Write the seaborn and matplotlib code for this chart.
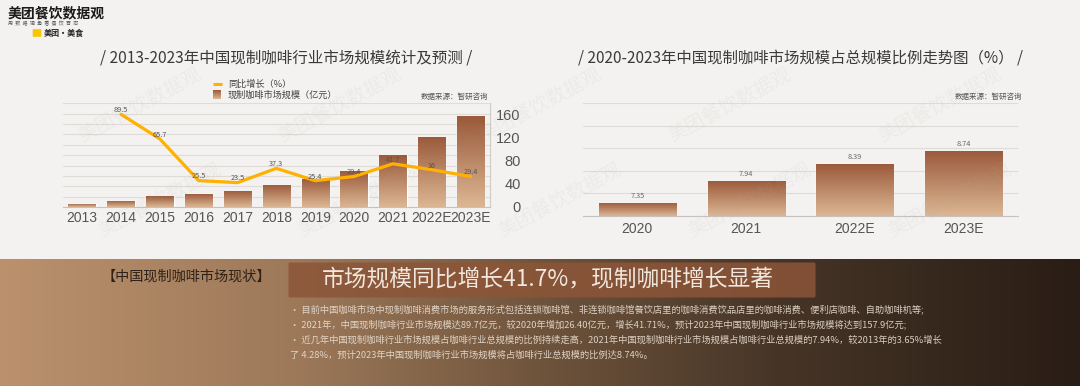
import numpy as np
import pandas as pd
import matplotlib.pyplot as plt
import seaborn as sns
from matplotlib.colors import LinearSegmentedColormap, to_rgba
from matplotlib.patches import FancyBboxPatch

sns.set_style('white')
plt.rcParams['font.family'] = ['Noto Sans CJK SC', 'DejaVu Sans']

# chart data
years = ['2013', '2014', '2015', '2016', '2017', '2018', '2019', '2020', '2021', '2022E', '2023E']
market_size = [5.8, 11.1, 18.3, 23.0, 28.4, 39.0, 48.9, 63.3, 89.7, 122.0, 157.9]
growth_years = years[1:]
growth = [89.5, 65.7, 25.5, 23.5, 37.3, 25.4, 29.4, 41.7, 36, 29.4]
share_years = ['2020', '2021', '2022E', '2023E']
share = [7.35, 7.94, 8.39, 8.74]

title_left = '/ 2013-2023年中国现制咖啡行业市场规模统计及预测 /'
title_right = '/ 2020-2023年中国现制咖啡市场规模占总规模比例走势图（%） /'
source = '数据来源：智研咨询'
headline = '市场规模同比增长41.7%，现制咖啡增长显著'
section = '【中国现制咖啡市场现状】'
notes = [
    '· 目前中国咖啡市场中现制咖啡消费市场的服务形式包括连锁咖啡馆、非连锁咖啡馆餐饮店里的咖啡消费饮品店里的咖啡消费、便利店咖啡、自助咖啡机等;',
    '· 2021年，中国现制咖啡行业市场规模达89.7亿元，较2020年增加26.40亿元，增长41.71%，预计2023年中国现制咖啡行业市场规模将达到157.9亿元;',
    '· 近几年中国现制咖啡行业市场规模占咖啡行业总规模的比例持续走高，2021年中国现制咖啡行业市场规模占咖啡行业总规模的7.94%，较2013年的3.65%增长',
    '了 4.28%，预计2023年中国现制咖啡行业市场规模将占咖啡行业总规模的比例达8.74%。',
]

W, H = 1080, 386
bar_top, bar_bot = '#9a5a3b', '#dcb693'
line_col = '#ffb000'
grid_col = '#dfdcd8'

# vertical gradient used for bars
grad = np.array([to_rgba(c) for c in
                 LinearSegmentedColormap.from_list('g', [bar_top, bar_bot])(np.linspace(0, 1, 64))])
grad = grad.reshape(64, 1, 4)


def gradient_bars(ax, floor):
    for p in list(ax.patches):
        x0, w = p.get_x(), p.get_width()
        y0 = max(p.get_y(), floor)
        y1 = p.get_y() + p.get_height()
        im = ax.imshow(grad, extent=[x0, x0 + w, y0, y1], aspect='auto',
                       zorder=p.get_zorder() + 0.1, interpolation='bicubic')
        im.set_clip_path(p)


fig = plt.figure(figsize=(W / 100, H / 100), dpi=100, facecolor='#f3f2f0')

# background layer in pixel coordinates
bg = fig.add_axes([0, 0, 1, 1], zorder=-5)
bg.axis('off')
band_cmap = LinearSegmentedColormap.from_list(
    'band', [(0, '#bb916d'), (0.28, '#9c7859'), (0.5, '#6f543c'), (0.72, '#463527'), (1, '#2a1d15')])
band = band_cmap(np.linspace(0, 1, 400)).reshape(1, 400, 4)
bg.imshow(band, extent=[0, W, H, 259], aspect='auto', interpolation='bicubic')

# logo
bg.text(8, 13, '美团餐饮数据观', fontsize=10, fontweight='bold', color='#1a1a1a', va='center')
bg.text(8, 24, '用  数  据  视  角  看  餐  饮  百  态', fontsize=3.6, color='#555', va='center')
bg.add_patch(FancyBboxPatch((33, 29.5), 8, 7, boxstyle='round,pad=0.3', fc='#f7c600', ec='none'))
bg.text(43.5, 33, '美团·美食', fontsize=5.8, fontweight='bold', color='#222', va='center')

# titles, legend, sources
bg.text(286, 58, title_left, fontsize=11.2, fontweight='light', color='#3a3a3a', ha='center', va='center')
bg.text(800, 58, title_right, fontsize=11.1, fontweight='light', color='#3a3a3a', ha='center', va='center')
bg.plot([213, 222], [84, 84], color=line_col, lw=2.2, solid_capstyle='butt')
bg.imshow(grad, extent=[213, 221, 99.5, 91], aspect='auto')
bg.text(228, 84, '同比增长（%）', fontsize=6.6, color='#444', va='center')
bg.text(228, 95.5, '现制咖啡市场规模（亿元）', fontsize=6.6, color='#444', va='center')
bg.text(488, 97, source, fontsize=5.4, color='#555', ha='right', va='center')
bg.text(1022, 97, source, fontsize=5.4, color='#555', ha='right', va='center')

# bottom band texts
bg.add_patch(FancyBboxPatch((290, 264), 524, 32, boxstyle='round,pad=1.5',
                            fc='#8c5538', ec='none', alpha=0.85))
bg.text(548, 280, headline, fontsize=16.4, fontweight='light', color='#f1e7dd', ha='center', va='center')
bg.text(186, 277, section, fontsize=10.2, color='#2e2218', ha='center', va='center')
for i, line in enumerate(notes):
    bg.text(290, 309 + i * 15.3, line, fontsize=6.7, color='#eadfd3', alpha=0.9, va='center')

bg.set_xlim(0, W)
bg.set_ylim(H, 0)

# left chart: market size bars + growth line
ax1 = fig.add_axes([62.7 / W, 1 - 207 / H, (490 - 62.7) / W, (207 - 103.4) / H])
ax1.set_facecolor('none')
df_size = pd.DataFrame({'year': years, 'size': market_size})
sns.barplot(data=df_size, x='year', y='size', order=years, ax=ax1,
            width=0.705, color=bar_bot, saturation=1)
ax1.set_ylim(0, 180)
gradient_bars(ax1, 0)

ax2 = ax1.twinx()
df_growth = pd.DataFrame({'year': growth_years, 'growth': growth})
df_growth['pos'] = [years.index(y) for y in df_growth['year']]
sns.lineplot(data=df_growth, x='pos', y='growth', ax=ax2, color=line_col, lw=2.3)
ax2.set_ylim(0, 100)
ax2.set_yticks([])
ax2.set_xlabel('')
ax2.set_ylabel('')
for s in ax2.spines.values():
    s.set_visible(False)
for p, g in zip(df_growth['pos'], df_growth['growth']):
    ax2.annotate(f'{g:g}', (p, g), xytext=(0, 3), textcoords='offset points',
                 ha='center', va='center', fontsize=5.3, color='#555')

# twinx moves ticks to the left, so set the right-side axis after it
ax1.set_xlim(-0.5, len(years) - 0.5)
ax1.set_ylim(0, 180)
ax1.yaxis.tick_right()
ax1.set_yticks([0, 40, 80, 120, 160])
ax1.set_yticks(np.arange(0, 181, 18), minor=True)
ax1.grid(which='minor', axis='y', color=grid_col, lw=0.8)
ax1.grid(which='major', axis='both', visible=False)
ax1.set_axisbelow(True)
ax1.tick_params(axis='y', which='both', length=0, pad=22, labelsize=10.5, labelcolor='#555',
                left=False, labelleft=False, right=True, labelright=True)
for t in ax1.get_yticklabels():
    t.set_horizontalalignment('right')
ax1.tick_params(axis='x', length=0, pad=3, labelsize=10, labelcolor='#555')
for t in ax1.get_xticklabels() + ax1.get_yticklabels():
    t.set_fontfamily(['Liberation Sans', 'DejaVu Sans'])
ax1.set_xlabel('')
ax1.set_ylabel('')
for s in ['top', 'left']:
    ax1.spines[s].set_visible(False)
ax1.spines['bottom'].set_color('#c6c3bf')
ax1.spines['right'].set_color('#cfccc8')

# right chart: share bars
ax3 = fig.add_axes([583 / W, 1 - 216 / H, (1018 - 583) / W, (216 - 103.3) / H])
ax3.set_facecolor('none')
df_share = pd.DataFrame({'year': share_years, 'share': share})
sns.barplot(data=df_share, x='year', y='share', order=share_years, ax=ax3,
            width=0.71, color=bar_bot, saturation=1)
ax3.bar_label(ax3.containers[0], fmt='%.2f', padding=2, fontsize=5.3, color='#666')
ax3.set_ylim(7.0, 10.0)
gradient_bars(ax3, 7.0)
ax3.set_xlim(-0.5, len(share_years) - 0.5)
ax3.set_ylim(7.0, 10.0)
ax3.set_yticks(np.arange(7.0, 10.01, 0.6))
ax3.grid(axis='y', color=grid_col, lw=0.8)
ax3.set_axisbelow(True)
ax3.tick_params(axis='y', length=0, labelleft=False)
ax3.tick_params(axis='x', length=0, pad=4.5, labelsize=10, labelcolor='#555')
for t in ax3.get_xticklabels():
    t.set_fontfamily(['Liberation Sans', 'DejaVu Sans'])
ax3.set_xlabel('')
ax3.set_ylabel('')
for s in ['top', 'left', 'right']:
    ax3.spines[s].set_visible(False)
ax3.spines['bottom'].set_color('#c6c3bf')

# faint watermarks
for row_y, xs in [(105, [140, 340, 540, 730, 940]), (200, [160, 360, 560, 750, 950])]:
    for x in xs:
        fig.text(x / W, 1 - row_y / H, '美团餐饮数据观', fontsize=14, color='#b0aaa4',
                 alpha=0.1, rotation=28, ha='center', va='center', zorder=10)

fig.savefig('out.png', dpi=100)
